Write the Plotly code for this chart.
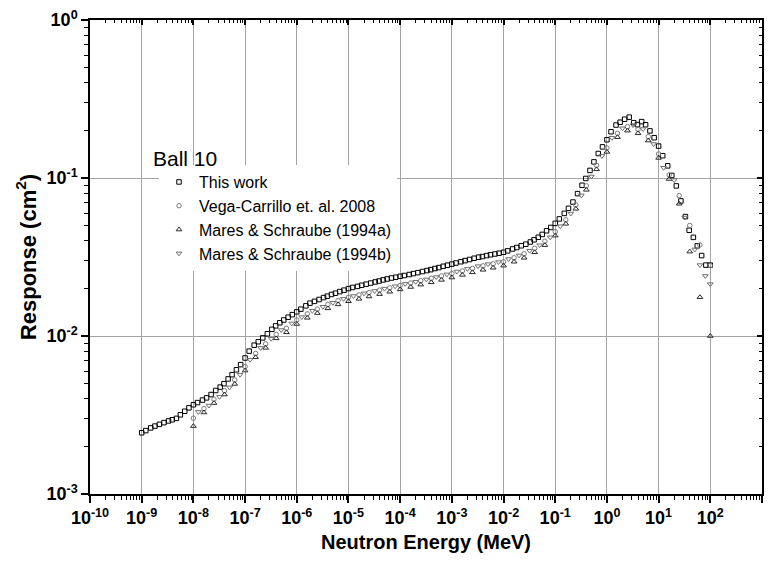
import plotly.graph_objects as go

# ---------------- data ----------------
E_this = [
    1.0e-9, 1.2e-9, 1.5e-9, 1.8e-9, 2.2e-9, 2.7e-9, 3.3e-9, 3.9e-9, 4.7e-9, 5.6e-9, 6.8e-9, 8.2e-9,
    1.0e-8, 1.2e-8, 1.5e-8, 1.8e-8, 2.2e-8, 2.7e-8, 3.3e-8, 3.9e-8, 4.7e-8, 5.6e-8, 6.8e-8, 8.2e-8,
    1.0e-7, 1.2e-7, 1.5e-7, 1.8e-7, 2.2e-7, 2.7e-7, 3.3e-7, 3.9e-7, 4.7e-7, 5.6e-7, 6.8e-7, 8.2e-7,
    1.0e-6, 1.2e-6, 1.5e-6, 1.8e-6, 2.2e-6, 2.7e-6, 3.3e-6, 3.9e-6, 4.7e-6, 5.6e-6, 6.8e-6, 8.2e-6,
    1.0e-5, 1.2e-5, 1.5e-5, 1.8e-5, 2.2e-5, 2.7e-5, 3.3e-5, 3.9e-5, 4.7e-5, 5.6e-5, 6.8e-5, 8.2e-5,
    1.0e-4, 1.2e-4, 1.5e-4, 1.8e-4, 2.2e-4, 2.7e-4, 3.3e-4, 3.9e-4, 4.7e-4, 5.6e-4, 6.8e-4, 8.2e-4,
    1.0e-3, 1.2e-3, 1.5e-3, 1.8e-3, 2.2e-3, 2.7e-3, 3.3e-3, 3.9e-3, 4.7e-3, 5.6e-3, 6.8e-3, 8.2e-3,
    1.0e-2, 1.2e-2, 1.5e-2, 1.8e-2, 2.2e-2, 2.7e-2, 3.3e-2, 3.9e-2, 4.7e-2, 5.6e-2, 6.8e-2, 8.2e-2,
    1.0e-1, 1.2e-1, 1.5e-1, 1.8e-1, 2.2e-1, 2.7e-1, 3.3e-1, 3.9e-1, 4.7e-1, 5.6e-1, 6.8e-1, 8.2e-1,
    1.0e0, 1.2e0, 1.5e0, 1.8e0, 2.2e0, 2.7e0, 3.3e0, 3.9e0, 4.7e0, 5.6e0, 6.8e0, 8.2e0,
    1.0e1, 1.2e1, 1.5e1, 1.8e1, 2.2e1, 2.7e1, 3.3e1, 3.9e1, 4.7e1, 5.6e1, 6.8e1, 8.2e1,
    1.0e2,
]
R_this = [
    0.00244, 0.00252, 0.00262, 0.00269, 0.00276, 0.00283, 0.00290, 0.00295, 0.00301, 0.00317, 0.00334, 0.00351,
    0.00367, 0.00379, 0.00393, 0.00406, 0.00426, 0.00452, 0.00475, 0.00499, 0.00535, 0.00569, 0.00611, 0.00659,
    0.00726, 0.00802, 0.00875, 0.00920, 0.00973, 0.01033, 0.01102, 0.01159, 0.01213, 0.01262, 0.01315, 0.01365,
    0.01422, 0.01479, 0.01552, 0.01614, 0.01656, 0.01702, 0.01750, 0.01786, 0.01832, 0.01866, 0.01910, 0.01950,
    0.01995, 0.02028, 0.02061, 0.02094, 0.02128, 0.02163, 0.02198, 0.02228, 0.02265, 0.02296, 0.02328, 0.02355,
    0.02388, 0.02415, 0.02449, 0.02483, 0.02518, 0.02559, 0.02594, 0.02630, 0.02673, 0.02710, 0.02761, 0.02805,
    0.02851, 0.02897, 0.02951, 0.02999, 0.03048, 0.03105, 0.03155, 0.03184, 0.03228, 0.03266, 0.03304, 0.03342,
    0.03388, 0.03459, 0.03556, 0.03631, 0.03724, 0.03811, 0.03936, 0.04064, 0.04217, 0.04395, 0.04634, 0.04864,
    0.05164, 0.05508, 0.05970, 0.06427, 0.07047, 0.07962, 0.08995, 0.09931, 0.1117, 0.1265, 0.1429, 0.1574,
    0.1746, 0.1963, 0.2163, 0.2254, 0.2355, 0.2427, 0.2239, 0.2178, 0.2275, 0.2173, 0.1986, 0.1799,
    0.1592, 0.1384, 0.1194, 0.1038, 0.0891, 0.0716, 0.0570, 0.0467, 0.0421, 0.0372, 0.0323, 0.0281,
    0.0281,
]

E_vega = [
    1.0e-8, 1.6e-8, 2.5e-8, 4.0e-8, 6.3e-8,
    1.0e-7, 1.6e-7, 2.5e-7, 4.0e-7, 6.3e-7,
    1.0e-6, 1.6e-6, 2.5e-6, 4.0e-6, 6.3e-6,
    1.0e-5, 1.6e-5, 2.5e-5, 4.0e-5, 6.3e-5,
    1.0e-4, 1.6e-4, 2.5e-4, 4.0e-4, 6.3e-4,
    1.0e-3, 1.6e-3, 2.5e-3, 4.0e-3, 6.3e-3,
    1.0e-2, 1.6e-2, 2.5e-2, 4.0e-2, 6.3e-2,
    1.0e-1, 1.6e-1, 2.5e-1, 4.0e-1, 6.3e-1,
    1.0e0, 1.6e0, 2.5e0, 4.0e0, 6.3e0,
    1.0e1, 1.6e1, 2.5e1, 4.0e1, 6.3e1,
    1.0e2,
]
R_vega = [
    0.00302, 0.00347, 0.00398, 0.00451, 0.00527,
    0.00640, 0.00776, 0.00891, 0.01023, 0.01119,
    0.01262, 0.01380, 0.01479, 0.01585, 0.01679,
    0.01758, 0.01820, 0.01884, 0.01950, 0.02018,
    0.02089, 0.02163, 0.02239, 0.02317, 0.02399,
    0.02483, 0.02582, 0.02679, 0.02780, 0.02864,
    0.02951, 0.03126, 0.03311, 0.03589, 0.03981,
    0.04571, 0.05433, 0.06761, 0.08913, 0.1202,
    0.1549, 0.1919, 0.2113, 0.2032, 0.1828,
    0.1419, 0.1045, 0.0773, 0.0501, 0.0377,
    0.0279,
]

E_mares_a = list(E_vega)
R_mares_a = [
    0.00269, 0.00328, 0.00376, 0.00426, 0.00497,
    0.00604, 0.00733, 0.00841, 0.00966, 0.01056,
    0.01191, 0.01303, 0.01396, 0.01496, 0.01585,
    0.01660, 0.01718, 0.01778, 0.01841, 0.01905,
    0.01972, 0.02042, 0.02114, 0.02187, 0.02265,
    0.02344, 0.02437, 0.02529, 0.02624, 0.02704,
    0.02786, 0.02951, 0.03126, 0.03388, 0.03758,
    0.04315, 0.05129, 0.06382, 0.08414, 0.1135,
    0.1462, 0.1812, 0.1995, 0.1918, 0.1726,
    0.1340, 0.0986, 0.0687, 0.0342, 0.0176,
    0.0100,
]

E_mares_b = [
    1.25e-8, 2.0e-8, 3.2e-8, 5.0e-8, 8.0e-8,
    1.25e-7, 2.0e-7, 3.2e-7, 5.0e-7, 8.0e-7,
    1.25e-6, 2.0e-6, 3.2e-6, 5.0e-6, 8.0e-6,
    1.25e-5, 2.0e-5, 3.2e-5, 5.0e-5, 8.0e-5,
    1.25e-4, 2.0e-4, 3.2e-4, 5.0e-4, 8.0e-4,
    1.25e-3, 2.0e-3, 3.2e-3, 5.0e-3, 8.0e-3,
    1.25e-2, 2.0e-2, 3.2e-2, 5.0e-2, 8.0e-2,
    1.25e-1, 2.0e-1, 3.2e-1, 5.0e-1, 8.0e-1,
    1.25e0, 2.0e0, 3.2e0, 5.0e0, 8.0e0,
    1.25e1, 2.0e1, 3.2e1, 5.0e1, 6.3e1, 8.0e1, 1.0e2,
]
R_mares_b = [
    0.00331, 0.00363, 0.00412, 0.00473, 0.00569,
    0.00708, 0.00841, 0.00962, 0.01091, 0.01202,
    0.01318, 0.01445, 0.01531, 0.01622, 0.01718,
    0.01791, 0.01862, 0.01928, 0.01995, 0.02065,
    0.02138, 0.02203, 0.02280, 0.02360, 0.02455,
    0.02559, 0.02661, 0.02767, 0.02851, 0.02938,
    0.03069, 0.03236, 0.03467, 0.03758, 0.04217,
    0.04955, 0.05957, 0.07762, 0.1023, 0.1380,
    0.1799, 0.2065, 0.2163, 0.2042, 0.1641,
    0.1161, 0.0970, 0.0562, 0.0353, 0.0281, 0.0240, 0.0213,
]

X_TICKS = [1e-10, 1e-9, 1e-8, 1e-7, 1e-6, 1e-5, 1e-4, 1e-3, 1e-2, 1e-1, 1e0, 1e1, 1e2, 1e3]
X_TICKTEXT = ["10<sup>-10</sup>", "10<sup>-9</sup>", "10<sup>-8</sup>", "10<sup>-7</sup>",
              "10<sup>-6</sup>", "10<sup>-5</sup>", "10<sup>-4</sup>", "10<sup>-3</sup>",
              "10<sup>-2</sup>", "10<sup>-1</sup>", "10<sup>0</sup>", "10<sup>1</sup>",
              "10<sup>2</sup>", "10<sup>3</sup>"]
Y_TICKS = [1e-3, 1e-2, 1e-1, 1e0]
Y_TICKTEXT = ["10<sup>-3</sup>", "10<sup>-2</sup>", "10<sup>-1</sup>", "10<sup>0</sup>"]

X_MINOR = [m * 10.0 ** d for d in range(-10, 3) for m in range(2, 10)]
Y_MINOR = [m * 10.0 ** d for d in range(-3, 0) for m in range(2, 10)]

# ---------------- figure ----------------
FONT = "Liberation Sans, Arial, sans-serif"
fig = go.Figure()

fig.add_trace(go.Scatter(
    x=E_this, y=R_this, mode="markers", name="This work",
    marker=dict(symbol="square-open", size=4.5, color="#000000", line=dict(width=1, color="#000000")),
))
fig.add_trace(go.Scatter(
    x=E_vega, y=R_vega, mode="markers", name="Vega-Carrillo et. al. 2008",
    marker=dict(symbol="circle-open", size=4.5, color="#7a7a7a", line=dict(width=1, color="#7a7a7a")),
))
fig.add_trace(go.Scatter(
    x=E_mares_a, y=R_mares_a, mode="markers", name="Mares &amp; Schraube (1994a)",
    marker=dict(symbol="triangle-up-open", size=5, color="#2a2a2a", line=dict(width=1, color="#2a2a2a")),
))
fig.add_trace(go.Scatter(
    x=E_mares_b, y=R_mares_b, mode="markers", name="Mares &amp; Schraube (1994b)",
    marker=dict(symbol="triangle-down-open", size=5, color="#6e6e6e", line=dict(width=1, color="#6e6e6e")),
))
# empty trace so the mirrored (top / right) axes are drawn
fig.add_trace(go.Scatter(x=[], y=[], xaxis="x2", yaxis="y2", showlegend=False, hoverinfo="skip"))

tickfont = dict(family=FONT, size=18, color="black", weight="bold")

fig.update_layout(
    width=775, height=562,
    margin=dict(l=90, r=13, t=20, b=68, autoexpand=False),
    paper_bgcolor="white", plot_bgcolor="white",
    font=dict(family=FONT, color="black"),
    showlegend=True,
    legend=dict(
        x=0.1027, y=0.694, xanchor="left", yanchor="top",
        bgcolor="white", borderwidth=0,
        font=dict(family=FONT, size=16, color="black"),
        itemsizing="trace",
    ),
    xaxis=dict(
        type="log", range=[-10, 3], autorange=False,
        showline=True, linecolor="black", linewidth=1.5, mirror=False,
        ticks="outside", ticklen=7, tickwidth=1.5, tickcolor="black",
        tickmode="array", tickvals=X_TICKS, ticktext=X_TICKTEXT,
        tickfont=tickfont,
        showgrid=True, gridcolor="#a3a3a3", gridwidth=1, zeroline=False,
        minor=dict(tickmode="array", tickvals=X_MINOR, ticks="outside", ticklen=4,
                   tickwidth=1, tickcolor="black", showgrid=False),
        title=dict(text="Neutron Energy (MeV)", font=dict(family=FONT, size=20, color="black", weight="bold"),
                   standoff=8),
    ),
    yaxis=dict(
        type="log", range=[-3, 0], autorange=False,
        showline=True, linecolor="black", linewidth=1.5, mirror=False,
        ticks="outside", ticklen=7, tickwidth=1.5, tickcolor="black",
        tickmode="array", tickvals=Y_TICKS, ticktext=Y_TICKTEXT,
        tickfont=tickfont, ticklabelstandoff=0,
        showgrid=True, gridcolor="#a3a3a3", gridwidth=1, zeroline=False,
        minor=dict(tickmode="array", tickvals=Y_MINOR, ticks="outside", ticklen=4,
                   tickwidth=1, tickcolor="black", showgrid=False),
        title=dict(text="Response (cm<sup>2</sup>)", font=dict(family=FONT, size=22, color="black", weight="bold"),
                   standoff=4),
    ),
    xaxis2=dict(
        type="log", range=[-10, 3], autorange=False, overlaying="x", side="top", anchor="y",
        showline=True, linecolor="black", linewidth=1.5,
        ticks="inside", ticklen=5, tickwidth=1.5, tickcolor="black",
        tickmode="array", tickvals=X_TICKS, showticklabels=False,
        showgrid=False, zeroline=False,
        minor=dict(tickmode="array", tickvals=X_MINOR, ticks="inside", ticklen=3,
                   tickwidth=1, tickcolor="black", showgrid=False),
    ),
    yaxis2=dict(
        type="log", range=[-3, 0], autorange=False, overlaying="y", side="right", anchor="x",
        showline=True, linecolor="black", linewidth=1.5,
        ticks="inside", ticklen=5, tickwidth=1.5, tickcolor="black",
        tickmode="array", tickvals=Y_TICKS, showticklabels=False,
        showgrid=False, zeroline=False,
        minor=dict(tickmode="array", tickvals=Y_MINOR, ticks="inside", ticklen=3,
                   tickwidth=1, tickcolor="black", showgrid=False),
    ),
    annotations=[dict(
        text="Ball 10", xref="paper", yref="paper", x=0.0903, y=0.7068,
        xanchor="left", yanchor="middle", showarrow=False,
        font=dict(family=FONT, size=21, color="black"),
    )],
)

fig.write_html("out.html")
